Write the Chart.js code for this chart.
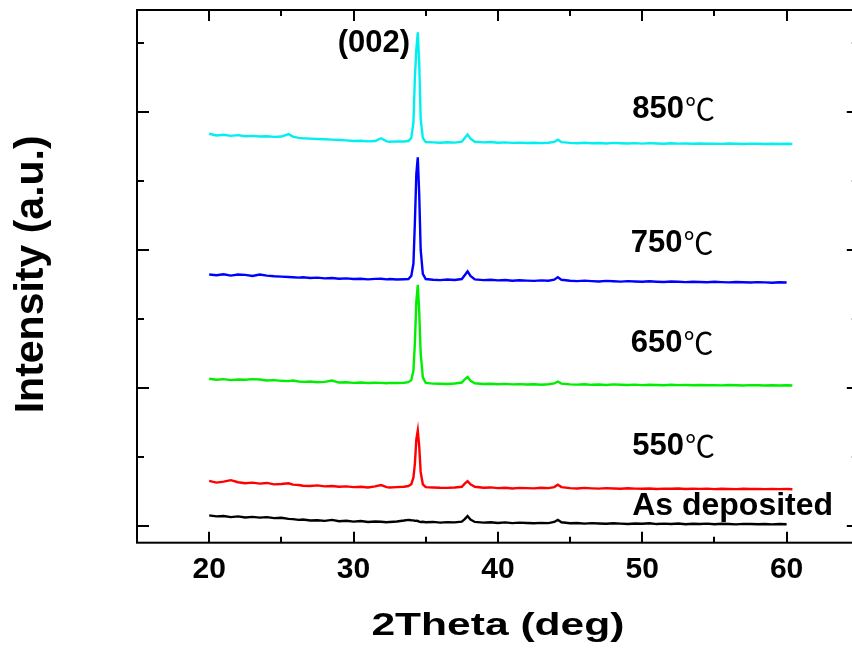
<!DOCTYPE html>
<html>
<head>
<meta charset="utf-8">
<script src="https://cdn.jsdelivr.net/npm/chart.js@4.4.1/dist/chart.umd.min.js"></script>
<style>
  html, body { margin: 0; padding: 0; background: #fff; overflow: hidden; }
  #wrap { width: 852px; height: 655px; overflow: hidden; }
  canvas { display: block; }
</style>
</head>
<body>
<div id="wrap"><canvas id="xrdChart" width="870" height="655"></canvas></div>
<script>
/* ─── Data ─────────────────────────────────────────────────────── */
const twoTheta = [
  20, 20.5, 21, 21.5, 22, 22.5, 23, 23.5, 24, 24.5,
  25, 25.5, 25.8, 26.2, 26.5, 27, 27.5, 28, 28.5, 29,
  29.5, 30, 30.5, 31, 31.5, 31.9, 32.3, 32.5, 33, 33.5,
  33.8, 34, 34.15, 34.25, 34.35, 34.45, 34.55, 34.65, 34.8, 35,
  35.5, 36, 36.5, 37, 37.5, 37.7, 37.9, 38.1, 38.4, 39,
  39.5, 40, 40.5, 41, 41.5, 42, 42.5, 43, 43.5, 43.9,
  44.15, 44.4, 45, 45.5, 46, 46.5, 47, 47.5, 48, 48.5,
  49, 49.5, 50, 50.5, 51, 51.5, 52, 52.5, 53, 53.5,
  54, 54.5, 55, 55.5, 56, 56.5, 57, 57.5, 58, 58.5,
  59, 59.5, 60, 60.4
];

const asDeposited = [
  150, 135, 140, 125, 135, 120, 128, 118, 125, 110,
  115, 100, 95, 85, 90, 75, 80, 70, 85, 65,
  72, 60, 68, 55, 62, 58, 50, 55, 62, 75,
  85, 80, 78, 70, 72, 68, 60, 55, 58, 50,
  55, 45, 52, 48, 60, 95, 140, 90, 55, 45,
  50, 40, 48, 38, 45, 40, 35, 42, 38, 55,
  85, 50, 35, 40, 30, 38, 32, 28, 36, 30,
  25, 33, 28, 35, 24, 30, 26, 32, 22, 28,
  25, 30, 22, 28, 26, 20, 27, 24, 22, 26,
  20, 24, 22, null
];

const t550 = [
  650, 625, 640, 660, 630, 615, 625, 610, 620, 600,
  605, 615, 595, 590, 580, 575, 585, 570, 575, 565,
  570, 560, 565, 555, 570, 590, 560, 555, 560, 565,
  575, 600, 700, 900, 1250, 1380, 1150, 780, 600, 560,
  555, 550, 548, 555, 565, 610, 645, 600, 565, 550,
  555, 545, 550, 540, 548, 545, 542, 550, 545, 560,
  595, 560, 545, 540, 548, 542, 538, 545, 540, 535,
  542, 538, 535, 540, 533, 538, 535, 540, 532, 536,
  534, 538, 530, 536, 533, 530, 535, 532, 534, 530,
  533, 530, 532, 528
];

const t650 = [
  2130, 2115, 2125, 2110, 2120, 2115, 2125, 2120, 2105, 2110,
  2100, 2095, 2105, 2090, 2085, 2090, 2080, 2085, 2105, 2075,
  2080, 2070, 2075, 2068, 2072, 2070, 2065, 2070, 2068, 2072,
  2080, 2110, 2250, 2650, 3250, 3490, 3100, 2500, 2150, 2070,
  2060, 2058, 2055, 2062, 2075, 2120, 2155, 2100, 2065, 2055,
  2058, 2050, 2055, 2048, 2052, 2046, 2050, 2044, 2050, 2062,
  2090, 2060, 2048, 2045, 2050, 2042, 2046, 2040, 2048, 2044,
  2040, 2045, 2038, 2044, 2040, 2036, 2042, 2038, 2040, 2036,
  2040, 2035, 2038, 2034, 2040, 2036, 2033, 2038, 2035, 2032,
  2036, 2033, 2035, 2032
];

const t750 = [
  3640, 3630, 3645, 3625, 3640, 3635, 3620, 3640, 3625, 3615,
  3610, 3605, 3600, 3595, 3600, 3590, 3595, 3585, 3590, 3580,
  3585, 3575, 3580, 3570, 3578, 3580, 3570, 3575, 3568, 3572,
  3575, 3620, 3800, 4400, 5100, 5340, 4800, 4000, 3650, 3575,
  3565, 3560, 3568, 3562, 3575, 3630, 3685, 3620, 3570, 3560,
  3565, 3555, 3560, 3550, 3558, 3552, 3548, 3556, 3550, 3565,
  3600, 3565, 3550, 3545, 3552, 3545, 3540, 3548, 3542, 3538,
  3545, 3540, 3535, 3542, 3536, 3532, 3540, 3535, 3530, 3536,
  3532, 3528, 3535, 3530, 3526, 3532, 3528, 3524, 3530, 3526,
  3522, 3528, 3524, null
];

const t850 = [
  5680, 5655, 5665, 5650, 5660, 5645, 5650, 5640, 5645, 5635,
  5640, 5675, 5640, 5620, 5615, 5610, 5605, 5600, 5595, 5590,
  5585, 5575, 5580, 5570, 5575, 5615, 5570, 5565, 5570, 5568,
  5575, 5620, 5850, 6500, 6900, 7150, 6700, 5900, 5620, 5560,
  5555, 5550, 5558, 5552, 5565, 5620, 5670, 5610, 5565, 5555,
  5560, 5550, 5555, 5548, 5552, 5546, 5550, 5545, 5550, 5562,
  5595, 5560, 5548, 5544, 5550, 5542, 5546, 5540, 5548, 5543,
  5540, 5545, 5538, 5544, 5540, 5536, 5542, 5538, 5540, 5536,
  5540, 5535, 5538, 5534, 5540, 5536, 5533, 5538, 5535, 5532,
  5536, 5533, 5535, 5532
];

const seriesNames  = ['As deposited', '550℃', '650℃', '750℃', '850℃'];
const seriesValues = [asDeposited, t550, t650, t750, t850];
const seriesColors = ['#000000', '#ff0000', '#00ee00', '#0000ff', '#00f0f0'];

const xMajorTicks = [20, 30, 40, 50, 60];
const xMinorTicks = [25, 35, 45, 55];
const yMajorTicks = [0, 2000, 4000, 6000];
const yMinorTicks = [1000, 3000, 5000, 7000];

const peakLabel = '(002)';
const xTitle    = '2Theta (deg)';
const yTitle    = 'Intensity (a.u.)';

/* ─── Where the text sits (data coords) ────────────────────────── */
const seriesLabelPos = [
  { x: 49.3, y: 155 },
  { x: 49.3, y: 1025 },
  { x: 49.2, y: 2517 },
  { x: 49.2, y: 3967 },
  { x: 49.3, y: 5909 },
];
const peakLabelPos = { x: 28.9, y: 6865 };

const FONT = '"Liberation Sans", Arial, Helvetica, sans-serif';

/* ─── Frame, inward ticks and axis titles ──────────────────────── */
const framePlugin = {
    id: 'frame',
    afterDraw(chart) {
        const { ctx, chartArea: a, scales: { x, y } } = chart;
        ctx.save();
        ctx.strokeStyle = '#000';
        ctx.lineWidth   = 2;
        ctx.strokeRect(a.left, a.top, a.right - a.left, a.bottom - a.top);

        ctx.beginPath();
        const xTick = (v, len) => {
            const px = Math.round(x.getPixelForValue(v));
            ctx.moveTo(px, a.bottom); ctx.lineTo(px, a.bottom - len);
            ctx.moveTo(px, a.top);    ctx.lineTo(px, a.top + len);
        };
        const yTick = (v, len) => {
            const py = Math.round(y.getPixelForValue(v));
            ctx.moveTo(a.left, py);  ctx.lineTo(a.left + len, py);
            ctx.moveTo(a.right, py); ctx.lineTo(a.right - len, py);
        };
        xMajorTicks.forEach(v => xTick(v, 11));
        xMinorTicks.forEach(v => xTick(v, 6));
        yMajorTicks.forEach(v => yTick(v, 12));
        yMinorTicks.forEach(v => yTick(v, 7));
        ctx.stroke();

        ctx.fillStyle = '#000';

        // x title (the original face is a wide bold sans)
        ctx.font = `bold 32px ${FONT}`;
        ctx.textAlign = 'center';
        ctx.textBaseline = 'alphabetic';
        ctx.save();
        ctx.translate((a.left + a.right) / 2, 635);
        ctx.scale(1.33, 1);
        ctx.fillText(xTitle, 0, 0);
        ctx.restore();

        // y title, rotated
        ctx.font = `bold 41px ${FONT}`;
        ctx.save();
        ctx.translate(43, (a.top + a.bottom) / 2 - 2);
        ctx.rotate(-Math.PI / 2);
        ctx.fillText(yTitle, 0, 0);
        ctx.restore();

        ctx.restore();
    }
};

/* ─── Series labels with the ℃ sign in a lighter face ──────────── */
const labelPlugin = {
    id: 'seriesLabels',
    afterDatasetsDraw(chart) {
        const { ctx, scales: { x, y } } = chart;
        ctx.save();
        ctx.fillStyle = '#000';
        ctx.textAlign = 'left';
        ctx.textBaseline = 'alphabetic';

        seriesNames.forEach((name, i) => {
            const px  = x.getPixelForValue(seriesLabelPos[i].x);
            const py  = y.getPixelForValue(seriesLabelPos[i].y);
            const num = name.replace('℃', '');
            ctx.font = `bold ${name.includes('℃') ? 31 : 32}px ${FONT}`;
            ctx.fillText(num, px, py);
            if (name.includes('℃')) {
                const w = ctx.measureText(num).width;
                ctx.font = '30px "Noto Sans CJK SC", sans-serif';
                ctx.fillText('℃', px + w + 1, py + 2);
            }
        });

        ctx.font = `bold 31px ${FONT}`;
        ctx.fillText(peakLabel, x.getPixelForValue(peakLabelPos.x), y.getPixelForValue(peakLabelPos.y));
        ctx.restore();
    }
};

/* ─── Chart ────────────────────────────────────────────────────── */
const datasets = seriesValues.map((vals, i) => ({
    label       : seriesNames[i],
    data        : twoTheta.map((t, k) => ({ x: t, y: vals[k] })),
    borderColor : seriesColors[i],
    borderWidth : 2.4,
    pointRadius : 0,
    tension     : 0,
    fill        : false,
}));

new Chart(document.getElementById('xrdChart'), {
    type: 'line',
    data: { datasets },
    options: {
        responsive : false,
        animation  : false,
        events     : [],
        layout     : { padding: { left: 137, top: 10, right: 11.2, bottom: 0 } },
        plugins    : { legend: { display: false }, tooltip: { enabled: false } },
        scales     : {
            x: {
                type   : 'linear',
                min    : 15,
                max    : 65,
                grid   : { display: false, drawTicks: false },
                border : { display: false },
                ticks  : {
                    color   : '#000',
                    padding : 9,
                    font    : { family: FONT, size: 30, weight: 'bold' },
                },
                afterBuildTicks: s => { s.ticks = xMajorTicks.map(v => ({ value: v })); },
                afterFit: s => { s.height = 112.3; },
            },
            y: {
                type    : 'linear',
                min     : -246,
                max     : 7474,
                display : false,
            },
        },
    },
    plugins: [framePlugin, labelPlugin],
});
</script>
</body>
</html>
